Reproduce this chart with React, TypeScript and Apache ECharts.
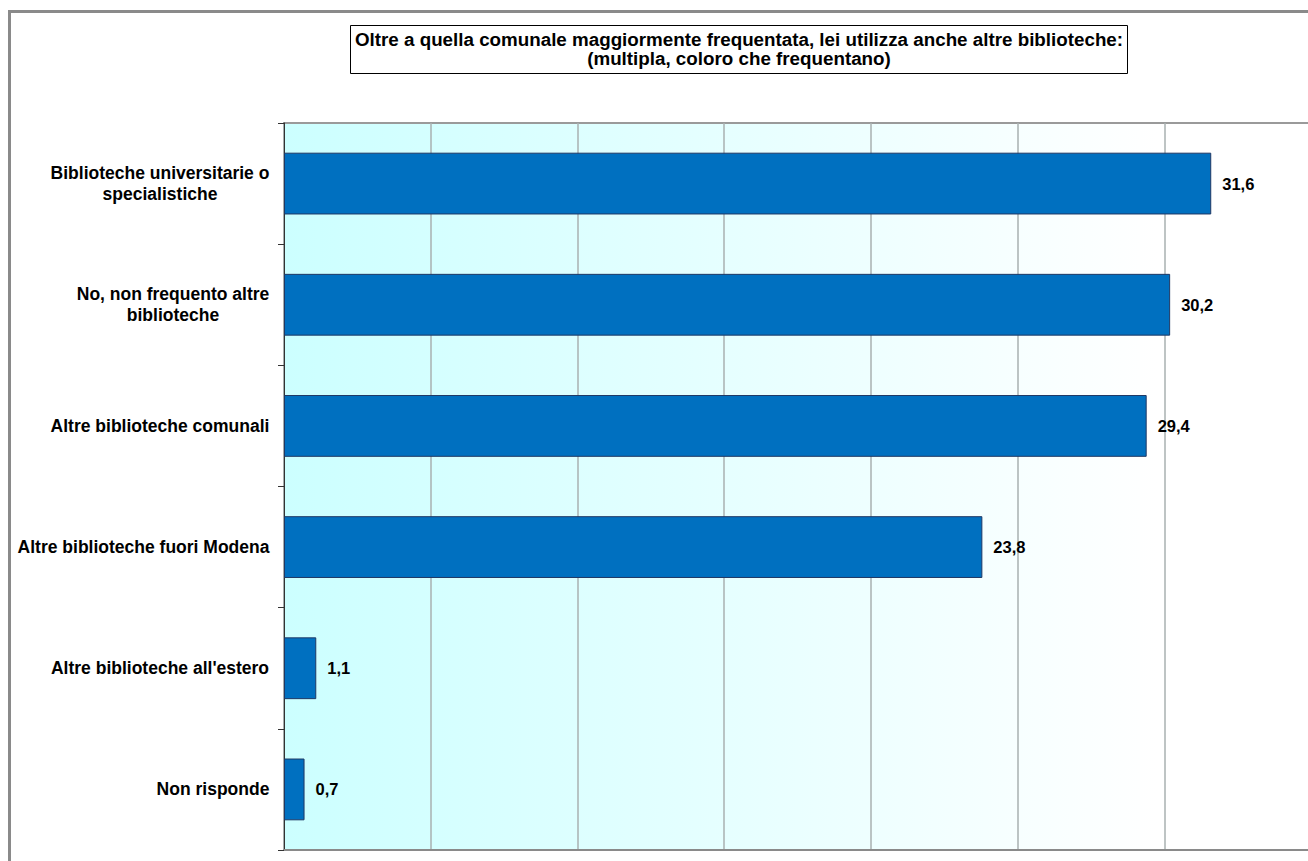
import React, { useEffect, useRef } from "react";
import * as echarts from "echarts";

const TITLE_LINES = [
  "Oltre a quella comunale maggiormente frequentata, lei utilizza anche altre biblioteche:",
  "(multipla, coloro che frequentano)",
];
const CATEGORIES = [
  "Biblioteche universitarie o\nspecialistiche",
  "No, non frequento altre\nbiblioteche",
  "Altre biblioteche comunali",
  "Altre biblioteche fuori Modena",
  "Altre biblioteche all'estero",
  "Non risponde",
];
const VALUES = [31.6, 30.2, 29.4, 23.8, 1.1, 0.7];
const X_MIN = 0;
const X_MAX = 35;
const X_INTERVAL = 5;

const FONT = "'Liberation Sans', Arial, sans-serif";
const LABEL_SIZE = 17.5;

function measure(text: string, font: string): number {
  const c = document.createElement("canvas");
  const ctx = c.getContext("2d");
  if (!ctx) return text.length * 9;
  ctx.font = font;
  return ctx.measureText(text).width;
}

export default function App() {
  const ref = useRef<HTMLDivElement>(null);
  useEffect(() => {
    if (!ref.current) return;
    const chart = echarts.init(ref.current, null, { renderer: "svg" });

    const labelFont = `bold ${LABEL_SIZE}px 'Liberation Sans'`;
    const rich: Record<string, any> = {};
    CATEGORIES.forEach((c, i) => {
      const w = Math.max(...c.split("\n").map((l) => measure(l, labelFont)));
      rich["c" + i] = {
        width: Math.ceil(w) + 1,
        align: "center",
        fontFamily: FONT,
        fontWeight: "bold",
        fontSize: LABEL_SIZE,
        color: "#000",
        lineHeight: 21,
      };
    });

    chart.setOption({
      animation: false,
      backgroundColor: "#ffffff",
      title: {
        text: TITLE_LINES.join("\n"),
        left: 734,
        top: 25,
        padding: [5, 5, 6, 5],
        borderColor: "#000",
        borderWidth: 1,
        textAlign: "center",
        textStyle: {
          fontFamily: FONT,
          fontWeight: "bold",
          fontSize: 18.8,
          color: "#000",
          lineHeight: 19,
        },
      },
      graphic: [
        {
          type: "rect",
          shape: { x: 9.5, y: 11.5, width: 1320, height: 880 },
          style: { fill: "none", stroke: "#8a8a8a", lineWidth: 3 },
          silent: true,
          z: 100,
        },
      ],
      grid: {
        left: 284,
        top: 123,
        right: 0,
        bottom: 11,
        show: true,
        borderColor: "#9a9a9a",
        borderWidth: 2,
        backgroundColor: new echarts.graphic.LinearGradient(0, 0, 1, 0, [
          { offset: 0, color: "#ccffff" },
          { offset: 0.85, color: "#ffffff" },
          { offset: 1, color: "#ffffff" },
        ]),
      },
      xAxis: {
        type: "value",
        min: X_MIN,
        max: X_MAX,
        interval: X_INTERVAL,
        axisLabel: { show: false },
        axisTick: { show: false },
        axisLine: { show: true, lineStyle: { color: "#8a8a8a", width: 2 } },
        splitLine: { show: true, lineStyle: { color: "#a8b0b0", width: 1.5 } },
      },
      yAxis: {
        type: "category",
        inverse: true,
        data: CATEGORIES,
        axisLine: { show: true, lineStyle: { color: "#333", width: 1 } },
        axisTick: { show: true, length: 6, alignWithLabel: false, lineStyle: { color: "#333" } },
        splitLine: { show: false },
        axisLabel: {
          margin: 14,
          align: "right",
          formatter: (v: string) => {
            const i = CATEGORIES.indexOf(v);
            return v
              .split("\n")
              .map((l) => `{c${i}|${l}}`)
              .join("\n");
          },
          rich,
        },
      },
      series: [
        {
          type: "bar",
          data: VALUES,
          barCategoryGap: "49%",
          itemStyle: { color: "#0070c0", borderColor: "#1f3864", borderWidth: 1 },
          label: {
            show: true,
            position: "right",
            distance: 11,
            fontFamily: FONT,
            fontWeight: "bold",
            fontSize: 16.5,
            color: "#000",
            formatter: (p: any) => String(p.value).replace(".", ","),
          },
        },
      ],
    });
    return () => chart.dispose();
  }, []);
  return (
    <div
      style={{
        position: "fixed",
        left: 0,
        top: 0,
        width: 1308,
        height: 861,
        overflow: "hidden",
      }}
    >
      <div ref={ref} style={{ width: 1311, height: 861 }} />
    </div>
  );
}
